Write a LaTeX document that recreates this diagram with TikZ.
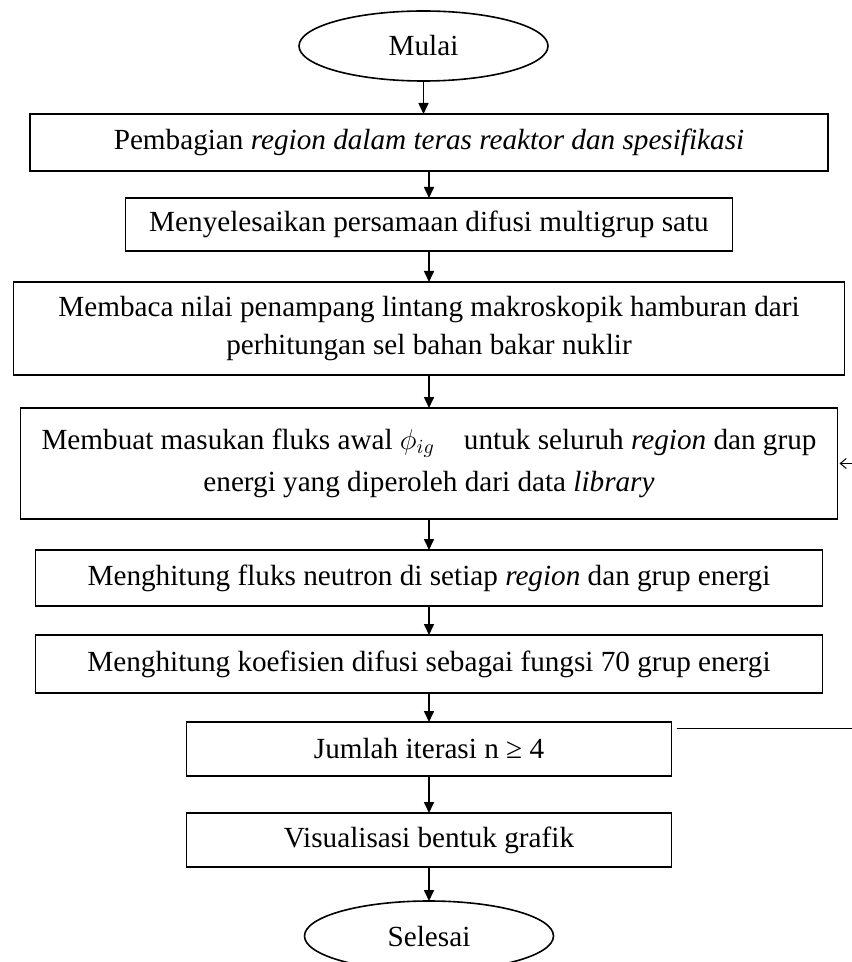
\documentclass[tikz,border=0pt]{standalone}
\usepackage{fontspec}
\setmainfont{Liberation Serif}
\usetikzlibrary{positioning,shapes.geometric,arrows.meta}

\begin{document}
\begin{tikzpicture}[>={Triangle[width=5pt,length=5.5pt]},line width=0.8pt,
  font=\fontsize{14.6pt}{19pt}\selectfont]
\tikzset{
  terminal/.style={ellipse, draw, minimum width=124.5pt, minimum height=35pt, inner sep=0pt, outer sep=0pt},
  process/.style={rectangle, draw, align=center, inner sep=0pt, outer sep=0pt}
}
\useasboundingbox (0,0) rectangle (425.5pt,-481pt);

% Nodes
\node[terminal] (start) at (211.75pt,-23pt) {Mulai};
\node[process, minimum width=399pt, minimum height=28.5pt, below=16.5pt of start, xshift=2.75pt] (region)
  {Pembagian \textit{region dalam teras reaktor dan spesifikasi}};
\node[process, minimum width=303.5pt, minimum height=26.5pt, below=13.5pt of region] (solve)
  {Menyelesaikan persamaan difusi multigrup satu};
\node[process, minimum width=415.5pt, minimum height=46.5pt, below=15.5pt of solve] (read)
  {Membaca nilai penampang lintang makroskopik hamburan dari\\perhitungan sel bahan bakar nuklir};
\node[process, minimum width=408.5pt, minimum height=55.5pt, below=16.5pt of read] (fluxinit)
  {Membuat masukan fluks awal $\phi_{ig}$\quad untuk seluruh \textit{region} dan grup\\[2pt]
   energi yang diperoleh dari data \textit{library}};
\node[process, minimum width=393.5pt, minimum height=28pt, below=15.5pt of fluxinit] (flux)
  {Menghitung fluks neutron di setiap \textit{region} dan grup energi};
\node[process, minimum width=393.5pt, minimum height=29pt, below=14.5pt of flux] (diff)
  {Menghitung koefisien difusi sebagai fungsi 70 grup energi};
\node[process, minimum width=242.5pt, minimum height=27pt, below=14.5pt of diff] (iter)
  {Jumlah iterasi n ≥ 4};
\node[process, minimum width=242.5pt, minimum height=27pt, below=18.5pt of iter] (plot)
  {Visualisasi bentuk grafik};
\node[terminal, below=17pt of plot] (stop) {Selesai};
\coordinate (loop) at (426.5pt,0);

% Arrows
\draw[->] (start) -- (start |- region.north);
\draw[->] (region) -- (solve);
\draw[->] (solve) -- (read);
\draw[->] (read) -- (fluxinit);
\draw[->] (fluxinit) -- (flux);
\draw[->] (flux) -- (diff);
\draw[->] (diff) -- (iter);
\draw[->] (iter) -- (plot);
\draw[->] (plot) -- (stop);
\draw[line width=0.5pt, -{Straight Barb[length=3pt,width=5pt]}, shorten >=1pt]
  ([xshift=2.5pt,yshift=-3pt]iter.north east) -| (loop |- fluxinit.east) -- (fluxinit.east);
\end{tikzpicture}
\end{document}
